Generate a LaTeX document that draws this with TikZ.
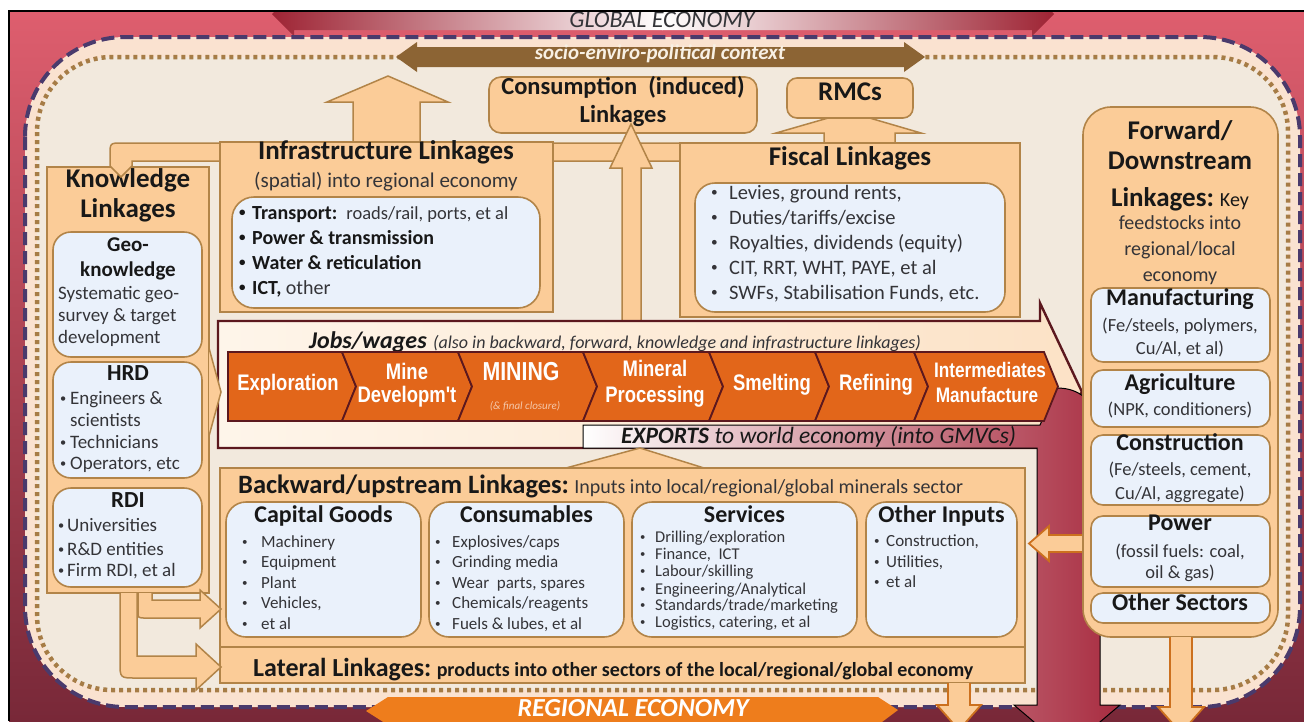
\documentclass[tikz,border=0pt]{standalone}
\usepackage{fontspec}
\setmainfont{Carlito}
\newfontfamily\chevfont[FakeStretch=0.82]{Liberation Sans}
\usetikzlibrary{positioning}

\definecolor{bgtop}{RGB}{222,94,110}
\definecolor{bgbot}{RGB}{120,40,56}
\definecolor{globred}{RGB}{158,36,52}
\definecolor{peach}{RGB}{250,226,208}
\definecolor{sand}{RGB}{242,233,221}
\definecolor{frameblue}{RGB}{74,58,108}
\definecolor{dotbrown}{RGB}{166,124,70}
\definecolor{ctxbrown}{RGB}{140,100,52}
\definecolor{ctxtext}{RGB}{248,240,228}
\definecolor{boxorange}{RGB}{251,204,152}
\definecolor{boxedge}{RGB}{178,132,72}
\definecolor{boxblue}{RGB}{234,241,251}
\definecolor{chevfill}{RGB}{226,102,26}
\definecolor{chevedge}{RGB}{92,24,30}
\definecolor{chevsmall}{RGB}{245,200,170}
\definecolor{jobslight}{RGB}{254,245,234}
\definecolor{jobspeach}{RGB}{252,226,198}
\definecolor{exportred}{RGB}{168,44,64}
\definecolor{regorange}{RGB}{238,125,28}
\definecolor{arrowedge}{RGB}{204,112,30}
\definecolor{inkdark}{RGB}{24,24,24}
\definecolor{inkgray}{RGB}{52,52,56}

\newcommand{\fsz}[1]{\fontsize{#1}{#1}\selectfont}
\newcommand{\bul}[1][10pt]{\makebox[#1][l]{\raisebox{0.12em}{\scalebox{0.65}{•}}}}

\begin{document}
\begin{tikzpicture}[x=1pt, y=-1pt]
    \tikzset{
        lbl/.style={inner sep=0pt, anchor=mid},
        lblw/.style={inner sep=0pt, anchor=mid west},
        ttl/.style={lbl, font=\bfseries\fsz{27}, text=inkdark},
        subttl/.style={lbl, font=\bfseries\fsz{24}, text=inkdark},
        txt/.style={lbl, font=\fsz{20}, text=inkgray},
        itemk/.style={lblw, font=\fsz{19}, text=inkgray},
        itemf/.style={lblw, font=\fsz{20.5}, text=inkgray},
        itemb/.style={lblw, font=\fsz{17}, text=inkgray},
        chevtxt/.style={lbl, font=\chevfont\bfseries\fsz{22.5}, text=white},
        orangebox/.style={fill=boxorange, draw=boxedge, line width=1.6pt},
        bluebox/.style={fill=boxblue, draw=boxedge, line width=1.6pt, rounded corners=16pt},
        blockarrow/.style={fill=boxorange, draw=boxedge, line width=1.5pt},
        feedarrow/.style={fill=boxorange, draw=arrowedge, line width=1.8pt},
        chevron/.style={fill=chevfill, draw=chevedge, line width=1.8pt}
    }

    \useasboundingbox (0,0) rectangle (1304,721);
    \fill[white] (0,0) rectangle (1304,721);

    \begin{scope}
        \clip (9,11) rectangle (1304,721);
        \shade[top color=bgtop, bottom color=bgbot] (9,11) rectangle (1304,721);

        % --- Global economy band ---
        \shade[left color=globred, right color=white] (272,14) -- (294,-8) -- (294,-2) -- (663,-2) -- (663,30) -- (294,30) -- (294,36) -- cycle;
        \shade[left color=white, right color=globred] (662,-2) -- (1032,-2) -- (1032,-8) -- (1054,14) -- (1032,36) -- (1032,30) -- (662,30) -- cycle;
        \node[inner sep=0pt, anchor=base, font=\itshape\fsz{24}, text=inkgray] (global) at (662,27) {GLOBAL ECONOMY};

        % --- regional frame (dashed) and local frame (dotted) ---
        \draw[draw=frameblue, fill=peach, line width=4pt, dash pattern=on 13pt off 6pt, rounded corners=100pt] (25,37) rectangle (1300,707);
        \draw[draw=dotbrown, fill=sand, line width=4.5pt, dash pattern=on 4pt off 4pt, rounded corners=75pt] (37,57) rectangle (1288,690);

        % --- socio-enviro-political context ---
        \fill[ctxbrown] (396,57) -- (417,42) -- (417,47) -- (904,47) -- (904,42) -- (925,57) -- (904,72) -- (904,67) -- (417,67) -- (417,72) -- cycle;
        \node[lbl, font=\bfseries\itshape\fsz{21}, text=ctxtext] (context) at (660,57) {socio-enviro-political context};

        % --- Knowledge linkages ---
        \draw[orangebox] (47,167) rectangle (209,593);
        \node[ttl] (know1) at (128,185) {Knowledge};
        \node[ttl] (know2) at (128,215) {Linkages};

        \draw[bluebox, rounded corners=18pt] (53,232) rectangle (202,357);
        \node[subttl, font=\bfseries\fsz{21}] (geo1) at (128,249) {Geo-};
        \node[subttl, font=\bfseries\fsz{21}] (geo2) at (128,274) {knowledge};
        \foreach \y/\t in {297/{Systematic geo-}, 319/{survey \& target}, 341/{development}}
            \node[itemk] (geo\y) at (58,\y) {\t};

        \draw[bluebox, rounded corners=18pt] (53,362) rectangle (202,478);
        \node[subttl, font=\bfseries\fsz{23}] (hrd) at (128,378) {HRD};
        \foreach \y/\t in {402/{\bul[10pt]Engineers \&}, 424/{\hspace*{10pt}scientists}, 446/{\bul[10pt]Technicians}, 467/{\bul[10pt]Operators, etc}}
            \node[itemk] (hrd\y) at (60,\y) {\t};

        \draw[bluebox, rounded corners=18pt] (53,488) rectangle (202,587);
        \node[subttl, font=\bfseries\fsz{23}] (rdi) at (128,505) {RDI};
        \foreach \y/\t in {529/{Universities}, 553/{R\&D entities}, 574/{Firm RDI, et al}}
            \node[itemk] (rdi\y) at (58,\y) {\bul[9pt]\t};

        % --- band: knowledge - infrastructure - fiscal ---
        \draw[blockarrow] (110,166) -- (110,155) .. controls (110,143) .. (122,143) -- (680,143) -- (680,161) -- (132,161) -- (132,166) -- (121,177) -- cycle;

        % --- Infrastructure linkages ---
        \draw[blockarrow] (353,143) -- (353,102) -- (327,102) -- (388,76) -- (448,102) -- (420,102) -- (420,143);
        \draw[orangebox] (220,142) rectangle (553,312);
        \node[ttl] (infra) at (386,157) {Infrastructure Linkages};
        \node[txt, font=\fsz{21}] (infrasub) at (386,185) {(spatial) into regional economy};
        \draw[bluebox, rounded corners=22pt] (232,197) rectangle (540,308);
        \foreach \y/\t in {217/{\bul[13pt]Transport:\ \ {\mdseries\fsz{18.5}\color{inkgray}roads/rail, ports, et al}}, 242/{\bul[13pt]Power \& transmission}, 267/{\bul[13pt]Water \& reticulation}, 292/{\bul[13pt]ICT, {\mdseries\color{inkgray}other}}}
            \node[lblw, font=\bfseries\fsz{20}, text=inkdark] (infra\y) at (239,\y) {\t};

        % --- Fiscal linkages and RMCs ---
        \draw[blockarrow] (824,143) -- (824,133) -- (776,133) -- (849,112) -- (921,133) -- (895,133) -- (895,143);
        \draw[orangebox] (680,143) rectangle (1020,317);
        \node[ttl] (fiscal) at (850,163) {Fiscal Linkages};
        \draw[bluebox, rounded corners=20pt] (695,183) rectangle (1005,312);
        \foreach \y/\t in {197/{Levies, ground rents,}, 222/{Duties/tariffs/excise}, 247/{Royalties, dividends (equity)}, 272/{CIT, RRT, WHT, PAYE, et al}, 297/{SWFs, Stabilisation Funds, etc.}}
            \node[itemf] (fisc\y) at (711,\y) {\bul[18pt]\t};
        \draw[orangebox, rounded corners=10pt] (787,78) rectangle (913,118);
        \node[ttl] (rmc) at (850,98) {RMCs};

        % --- Consumption (induced) ---
        \draw[orangebox, rounded corners=12pt] (489,77) rectangle (757,133);
        \node[ttl, font=\bfseries\fsz{24.5}] (cons1) at (623,92) {Consumption\ \ (induced)};
        \node[ttl, font=\bfseries\fsz{24.5}] (cons2) at (623,120) {Linkages};
        \draw[blockarrow] (622,321) -- (622,168) -- (610,168) -- (631,124) -- (652,168) -- (641,168) -- (641,321);

        % --- Jobs / wages arrow ---
        \draw[left color=jobslight, right color=jobspeach, draw=chevedge, line width=2.4pt] (218,321) -- (1040,321) -- (1040,303) -- (1082,392) -- (1037,448) -- (218,448) -- cycle;
        \node[inner sep=0pt, anchor=base west, font=\bfseries\itshape\fsz{24}, text=inkdark] (jobs) at (309,348) {Jobs/wages};
        \node[inner sep=0pt, anchor=base west, font=\itshape\fsz{18}, text=inkgray] (jobsnote) at ([xshift=6pt]jobs.base east) {(also in backward, forward, knowledge and infrastructure linkages)};

        % --- Exports ---
        \draw[left color=white, right color=exportred, draw=black, line width=1pt] (583,425) -- (1040,425) -- (1057,388) .. controls (1068,388) and (1077,391) .. (1084,397) -- (1100,412) -- (1100,705) -- (1120,705) -- (1067,750) -- (1014,705) -- (1037,705) -- (1037,448) -- (583,448) -- cycle;
        \node[inner sep=0pt, anchor=base west, font=\bfseries\itshape\fsz{23.5}, text=inkdark] (exports) at (621,443) {EXPORTS};
        \node[inner sep=0pt, anchor=base west, font=\itshape\fsz{23.5}, text=inkdark] (exportsto) at ([xshift=5pt]exports.base east) {to world economy (into GMVCs)};

        % --- value chain ---
        \foreach \xa/\xb/\d in {228/342/0, 342/458/14, 458/583/14, 583/709/14, 709/815/14, 815/914/14, 914/1044/14}
            \draw[chevron] (\xa,352) -- (\xb,352) -- (\xb+14,386.5) -- (\xb,421) -- (\xa,421) -- (\xa+\d,386.5) -- cycle;
        \node[chevtxt] (explore) at (288,388) {Exploration};
        \node[chevtxt] (minedev1) at (407,377) {Mine};
        \node[chevtxt] (minedev2) at (407,400) {Developm't};
        \node[chevtxt, font=\chevfont\bfseries\fsz{26}] (mining) at (521,378) {MINING};
        \node[lbl, font=\itshape\fsz{11}, text=chevsmall] (closure) at (525,407) {(\& final closure)};
        \node[chevtxt] (proc1) at (655,374) {Mineral};
        \node[chevtxt] (proc2) at (655,400) {Processing};
        \node[chevtxt] (smelt) at (772,388) {Smelting};
        \node[chevtxt] (refine) at (876,388) {Refining};
        \node[chevtxt, font=\chevfont\bfseries\fsz{21}] (inter1) at (990,375) {Intermediates};
        \node[chevtxt, font=\chevfont\bfseries\fsz{21}] (inter2) at (987,400) {Manufacture};

        % knowledge -> jobs
        \draw[blockarrow] (209,348) -- (221,392) -- (209,436);

        % --- Backward / upstream linkages ---
        \draw[blockarrow] (566,468) -- (640,448) -- (704,468);
        \draw[orangebox] (220,468) rectangle (1025,647);
        \node[inner sep=0pt, anchor=base west, font=\bfseries\fsz{26.5}, text=inkdark] (back) at (238,493) {Backward/upstream Linkages:};
        \node[inner sep=0pt, anchor=base west, font=\fsz{20}, text=inkgray] (backsub) at ([xshift=5pt]back.base east) {Inputs into local/regional/global minerals sector};
        \foreach \xa/\xb/\name/\t in {226/421/capital/Capital Goods, 429/624/consum/Consumables, 632/857/serv/Services, 866/1017/other/Other Inputs} {
            \draw[bluebox, rounded corners=20pt] (\xa,502) rectangle (\xb,637);
            \node[subttl] (\name) at ({(\xa+\xb)/2},520) {\t};
        }
        \foreach \y/\t in {545/Machinery, 565/Equipment, 586/Plant, 606/{Vehicles,}, 627/{et al}}
            \node[itemb] (cap\y) at (242,\y) {\bul[19pt]\t};
        \foreach \y/\t in {545/{Explosives/caps}, 565/{Grinding media}, 586/{Wear\ \ parts, spares}, 606/{Chemicals/reagents}, 627/{Fuels \& lubes, et al}}
            \node[itemb] (cons\y) at (435,\y) {\bul[17pt]\t};
        \foreach \y/\t in {540/{Drilling/exploration}, 557/{Finance,\ \ ICT}, 574/{Labour/skilling}, 592/{Engineering/Analytical}, 608/{Standards/trade/marketing}, 625/{Logistics, catering, et al}}
            \node[itemb, font=\fsz{16.5}] (serv\y) at (640,\y) {\bul[15pt]\t};
        \foreach \y/\t in {544/{Construction,}, 565/{Utilities,}, 585/{et al}}
            \node[itemb] (oth\y) at (874,\y) {\bul[12pt]\t};

        % --- Lateral linkages ---
        \draw[orangebox] (220,647) rectangle (1025,683);
        \node[inner sep=0pt, anchor=base west, font=\bfseries\fsz{26}, text=inkdark] (lateral) at (253,676) {Lateral Linkages:};
        \node[inner sep=0pt, anchor=base west, font=\bfseries\fsz{20}, text=inkdark] (lateralsub) at ([xshift=5pt]lateral.base east) {products into other sectors of the local/regional/global economy};

        % knowledge -> backward, lateral
        \draw[blockarrow] (138,593) -- (138,612) .. controls (138,618) .. (146,618) -- (200,618) -- (200,628) -- (221,609) -- (200,590) -- (200,600) -- (152,600) -- (152,593);
        \draw[blockarrow] (120,593) -- (120,662) .. controls (120,678) .. (136,678) -- (196,678) -- (196,690) -- (221,667) -- (196,644) -- (196,656) -- (137,656) -- (137,593);

        % --- Forward / downstream linkages ---
        \draw[feedarrow] (1084,535) -- (1049,535) -- (1049,526) -- (1029,543.5) -- (1049,561) -- (1049,552) -- (1084,552);
        \draw[orangebox, rounded corners=28pt] (1083,107) rectangle (1278,637);
        \node[ttl] (fwd1) at (1180,137) {Forward/};
        \node[ttl] (fwd2) at (1180,167) {Downstream};
        \node[inner sep=0pt, anchor=base, font=\fsz{20}, text=inkdark] (fwd3) at (1180,206) {{\bfseries\fsz{27}Linkages:} Key};
        \foreach \y/\t in {227/{feedstocks into}, 253/{regional/local}, 279/{economy}}
            \node[txt] (fwd\y) at (1180,\y) {\t};
        \foreach \ya/\yb in {288/362, 370/427, 435/505, 516/587, 593/623}
            \draw[bluebox, rounded corners=12pt] (1091,\ya) rectangle (1270,\yb);
        \foreach \y/\t in {303/Manufacturing, 388/Agriculture, 448/Construction, 528/Power, 608/Other Sectors}
            \node[subttl] (sec\y) at (1180,\y) {\t};
        \foreach \y/\t in {329/{(Fe/steels, polymers,}, 352/{Cu/Al, et al)}, 413/{(NPK, conditioners)}, 473/{(Fe/steels, cement,}, 497/{Cu/Al, aggregate)}, 555/{(fossil fuels: coal,}, 576/{oil \& gas)}}
            \node[txt, font=\fsz{18.5}] (desc\y) at (1180,\y) {\t};

        % --- outflows into regional economy ---
        \draw[feedarrow] (948,683) -- (948,705) -- (937,705) -- (959,730) -- (981,705) -- (970,705) -- (970,683);
        \draw[feedarrow] (1170,637) -- (1170,707) -- (1158,707) -- (1181,733) -- (1204,707) -- (1192,707) -- (1192,637);

        % --- Regional economy band ---
        \fill[regorange] (366,711) -- (388,697) -- (878,697) -- (898,710) -- (878,725) -- (388,725) -- cycle;
        \node[inner sep=0pt, anchor=base, font=\bfseries\itshape\fsz{26}, text=white] (regional) at (633,716) {REGIONAL ECONOMY};
    \end{scope}

    \draw[black, line width=1.6pt] (9,721) -- (9,11) -- (1304,11);
\end{tikzpicture}
\end{document}
